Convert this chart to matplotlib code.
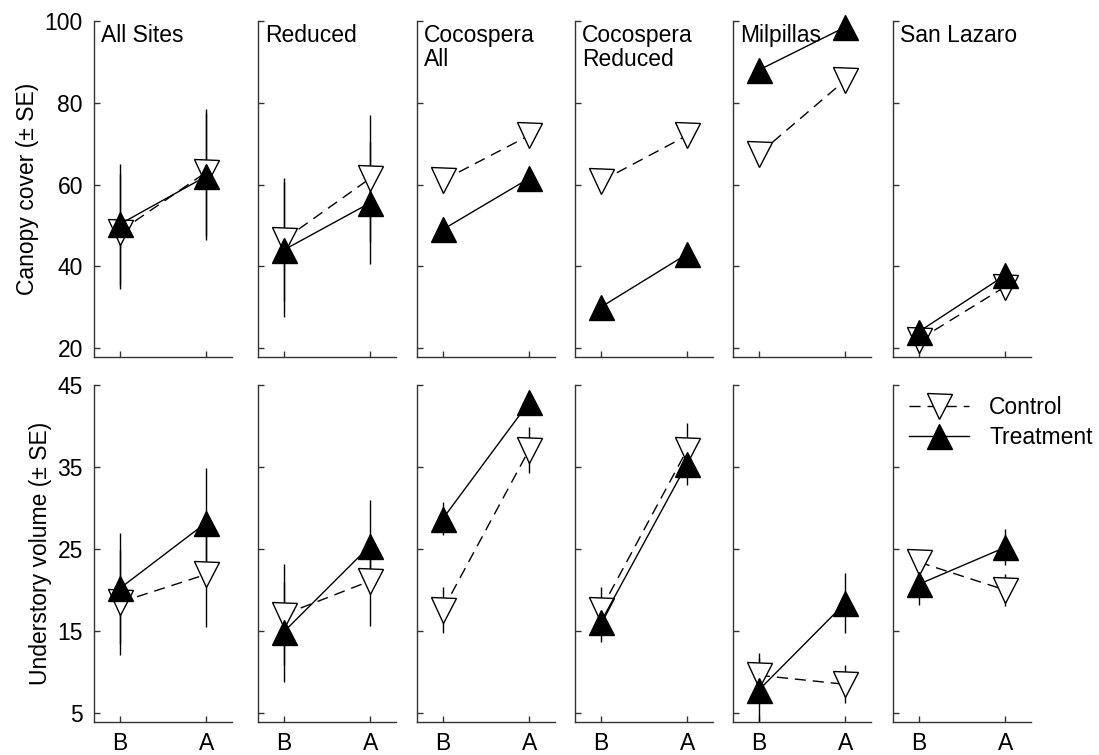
import matplotlib
matplotlib.use('Agg')
import matplotlib.pyplot as plt

plt.rcParams['font.family'] = ['Liberation Sans', 'DejaVu Sans']

sites = ['All Sites', 'Reduced', 'Cocospera\nAll', 'Cocospera\nReduced', 'Milpillas', 'San Lazaro']
periods = ['B', 'A']

# canopy cover, [B, A] per site
canopy_ctrl = [[48.5, 63.0], [46.5, 61.5], [61.0, 72.0], [60.8, 72.0], [67.5, 85.5], [22.0, 35.0]]
canopy_ctrl_se = [[14.0, 15.5], [15.0, 15.5], [1.8, 2.0], [1.5, 1.8], [1.5, 1.8], [1.5, 1.5]]
canopy_trt = [[50.3, 62.0], [44.0, 55.5], [49.0, 61.5], [30.0, 43.0], [88.0, 98.5], [24.0, 37.8]]
canopy_trt_se = [[14.8, 15.5], [16.5, 15.0], [1.0, 1.0], [1.0, 1.0], [1.5, 1.0], [1.0, 1.0]]

# understory volume, [B, A] per site
under_ctrl = [[18.5, 21.9], [17.0, 21.1], [17.6, 37.1], [17.6, 37.1], [9.6, 8.5], [23.4, 20.0]]
under_ctrl_se = [[6.4, 6.4], [6.2, 5.5], [2.8, 2.8], [2.8, 3.3], [2.1, 2.3], [1.3, 2.0]]
under_trt = [[20.2, 28.2], [14.9, 25.4], [28.7, 42.9], [16.1, 35.4], [7.8, 18.4], [20.7, 25.2]]
under_trt_se = [[6.8, 6.7], [6.1, 5.6], [2.0, 1.0], [2.4, 2.6], [4.5, 3.7], [2.5, 2.2]]

canopy_ticks = [20, 40, 60, 80, 100]
under_ticks = [5, 15, 25, 35, 45]

W, H = 1099, 755
lefts = [94, 258, 417, 575, 733, 893]
panel_w = 138
rows = [(21, 357), (385, 722)]
spine_col = '#333333'
fs = 16.5

fig = plt.figure(figsize=(W / 100, H / 100), dpi=100)

row_data = [
    (canopy_ctrl, canopy_ctrl_se, canopy_trt, canopy_trt_se, canopy_ticks, (17.8, 100), 'Canopy cover (± SE)'),
    (under_ctrl, under_ctrl_se, under_trt, under_trt_se, under_ticks, (3.9, 45), 'Understory volume (± SE)'),
]

x = [0, 1]
for r, (top, bot) in enumerate(rows):
    ctrl, ctrl_se, trt, trt_se, ticks, ylim, ylab = row_data[r]
    for c, left in enumerate(lefts):
        ax = fig.add_axes([left / W, 1 - bot / H, panel_w / W, (bot - top) / H])

        ax.errorbar(x, ctrl[c], yerr=ctrl_se[c], fmt='none', ecolor='black', elinewidth=1, capsize=0)
        ax.errorbar(x, trt[c], yerr=trt_se[c], fmt='none', ecolor='black', elinewidth=1, capsize=0)
        lc, = ax.plot(x, ctrl[c], color='black', lw=1, marker='v', ms=18, mfc='white', mec='black',
                      mew=1, clip_on=False, label='Control', zorder=3)
        lc.set_dashes([8, 5])
        lt, = ax.plot(x, trt[c], color='black', lw=1, marker='^', ms=18, mfc='black', mec='black',
                      mew=1, clip_on=False, label='Treatment', zorder=4)

        ax.set_xlim(-0.3, 1.3)
        ax.set_ylim(*ylim)
        ax.set_xticks(x)
        ax.set_yticks(ticks)
        for side in ['top', 'right']:
            ax.spines[side].set_visible(False)
        for side in ['left', 'bottom']:
            ax.spines[side].set_color(spine_col)
            ax.spines[side].set_linewidth(1)
        ax.tick_params(direction='in', length=4, width=1, color=spine_col, labelsize=fs)
        ax.tick_params(axis='x', pad=7)
        ax.tick_params(axis='y', pad=8)

        if r == 1:
            ax.set_xticklabels(periods)
        else:
            ax.set_xticklabels([])
            ax.text(0.05, 0.99, sites[c], transform=ax.transAxes, ha='left', va='top',
                    fontsize=fs, linespacing=1.05)
        if c == 0:
            ax.set_ylabel(ylab, fontsize=fs, labelpad=4)
        else:
            ax.set_yticklabels([])

        if r == 1 and c == 5:
            ax.legend(handles=[lc, lt], loc='upper left', bbox_to_anchor=(0.05, 0.995),
                      frameon=False, fontsize=fs, handlelength=2.6, handletextpad=0.9,
                      labelspacing=0.3, borderaxespad=0)

fig.savefig('out.png', dpi=100)
